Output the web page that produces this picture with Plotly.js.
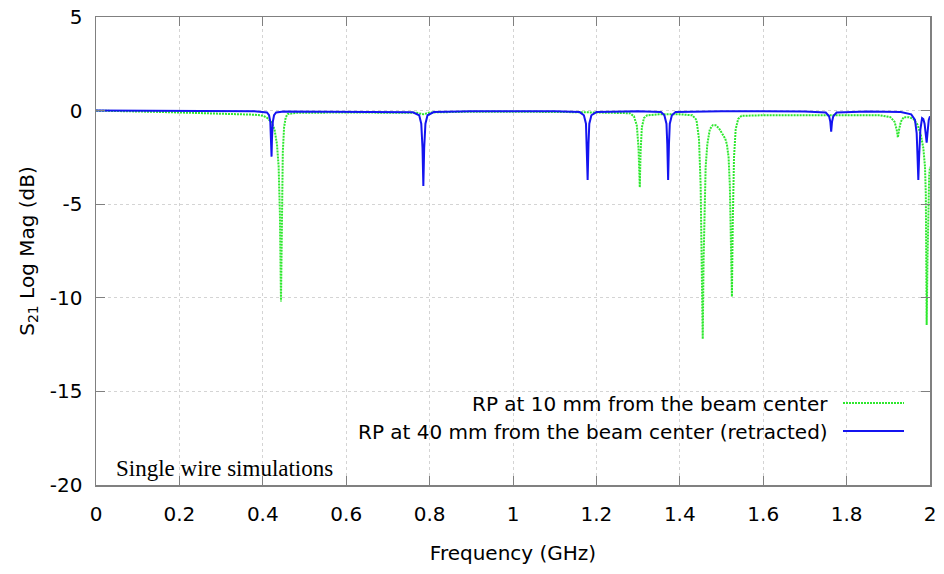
<!DOCTYPE html>
<html>
<head>
<meta charset="utf-8">
<script src="https://cdn.plot.ly/plotly-3.0.1.min.js"></script>
<style>html,body{margin:0;padding:0;background:#fff;}#chart{width:944px;height:574px;}</style>
</head>
<body>
<div id="chart"></div>
<script>
// Frequency (GHz) and S21 (dB)
const freqRP10 = [0, 0.05, 0.1, 0.15, 0.2, 0.25, 0.3, 0.35, 0.38, 0.40, 0.41, 0.42, 0.428, 0.434, 0.438, 0.441, 0.443, 0.4436, 0.4445, 0.446, 0.448, 0.451, 0.455, 0.46, 0.48,
  0.6, 0.7, 0.77, 0.785, 0.80, 0.9, 1.0, 1.1, 1.2, 1.28, 1.29, 1.297, 1.301, 1.304, 1.306, 1.309, 1.314, 1.322, 1.35, 1.40, 1.43,
  1.44, 1.446, 1.450, 1.453, 1.455, 1.457, 1.459, 1.462, 1.466, 1.472, 1.479, 1.486, 1.494, 1.500, 1.504, 1.506, 1.509, 1.513, 1.517, 1.520, 1.523, 1.525, 1.527, 1.530, 1.534, 1.540, 1.548,
  1.6, 1.7, 1.8, 1.86, 1.88, 1.905, 1.915, 1.920, 1.923, 1.926, 1.930, 1.937, 1.95, 1.96, 1.97, 1.978, 1.984, 1.988, 1.990, 1.991, 1.992, 1.994, 1.996, 1.998, 2.0];
const dbRP10 = [0, -0.01, -0.04, -0.07, -0.1, -0.13, -0.16, -0.2, -0.22, -0.27, -0.38, -0.6, -1.0, -1.8, -3.0, -5.5, -9.0, -10.2, -8.5, -5.0, -2.2, -0.9, -0.35, -0.18, -0.12,
  -0.1, -0.1, -0.12, -0.2, -0.1, -0.06, -0.05, -0.07, -0.1, -0.14, -0.3, -0.8, -2.0, -4.1, -2.2, -0.9, -0.4, -0.25, -0.2, -0.2, -0.25,
  -0.5, -1.5, -4.0, -9.0, -12.2, -8.0, -5.0, -3.0, -1.8, -1.0, -0.78, -0.78, -0.95, -1.2, -1.3, -1.45, -1.5, -1.8, -2.5, -4.0, -7.5, -9.94, -6.0, -2.5, -1.0, -0.45, -0.28,
  -0.25, -0.25, -0.25, -0.22, -0.25, -0.35, -0.6, -1.0, -1.43, -1.0, -0.6, -0.35, -0.35, -0.45, -0.75, -1.3, -2.0, -3.0, -4.5, -8.0, -11.45, -8.0, -5.0, -3.5, -3.0];

const freqRP40 = [0, 0.1, 0.2, 0.3, 0.38, 0.41, 0.415, 0.418, 0.42, 0.421, 0.422, 0.424, 0.427, 0.432, 0.45, 0.6, 0.7, 0.76, 0.775, 0.780, 0.783, 0.785, 0.787, 0.790, 0.795, 0.81,
  0.9, 1.0, 1.1, 1.16, 1.17, 1.175, 1.177, 1.179, 1.181, 1.183, 1.188, 1.2, 1.3, 1.355, 1.363, 1.368, 1.370, 1.372, 1.374, 1.376, 1.381, 1.39,
  1.5, 1.7, 1.75, 1.758, 1.761, 1.763, 1.765, 1.768, 1.776, 1.85, 1.93, 1.955, 1.964, 1.968, 1.970, 1.972, 1.974, 1.977, 1.981, 1.984, 1.987, 1.990, 1.992, 1.994, 1.997, 2.0];
const dbRP40 = [0, 0, -0.01, -0.03, -0.04, -0.1, -0.25, -0.6, -1.5, -2.46, -1.5, -0.6, -0.25, -0.1, -0.05, -0.05, -0.07, -0.09, -0.25, -0.7, -2.0, -4.03, -2.0, -0.7, -0.25, -0.08,
  -0.03, -0.02, -0.03, -0.08, -0.25, -0.7, -1.8, -3.71, -1.8, -0.7, -0.25, -0.08, -0.03, -0.08, -0.25, -0.7, -1.8, -3.71, -1.8, -0.7, -0.25, -0.08,
  -0.03, -0.05, -0.1, -0.3, -0.6, -1.13, -0.6, -0.3, -0.1, -0.05, -0.08, -0.2, -0.5, -1.2, -2.4, -3.71, -2.4, -1.0, -0.4, -0.45, -0.7, -1.2, -1.71, -1.2, -0.5, -0.3];

const xTickVals = [0, 0.2, 0.4, 0.6, 0.8, 1, 1.2, 1.4, 1.6, 1.8, 2];
const xTickText = ["0", "0.2", "0.4", "0.6", "0.8", "1", "1.2", "1.4", "1.6", "1.8", "2"];
const yTickVals = [-20, -15, -10, -5, 0, 5];
const yTickText = ["-20", "-15", "-10", "-5", "0", "5"];

const seriesNames = ["RP at 10 mm from the beam center", "RP at 40 mm from the beam center (retracted)"];
const seriesColors = ["#2ee82e", "#1414f0"];

const FONT = "DejaVu Sans, Verdana, sans-serif";

const traces = [
  {x: freqRP10, y: dbRP10, type: "scatter", mode: "lines", name: seriesNames[0],
   line: {color: seriesColors[0], width: 2, dash: "2px,1px"}},
  {x: freqRP40, y: dbRP40, type: "scatter", mode: "lines", name: seriesNames[1],
   line: {color: seriesColors[1], width: 2}}
];

const axisCommon = {
  showline: true, linecolor: "#808080", linewidth: 1.5, mirror: "ticks",
  ticks: "inside", ticklen: 9, tickcolor: "#808080", tickwidth: 1,
  showgrid: true, gridcolor: "#d4d4d4", griddash: "dot", gridwidth: 1,
  zeroline: false, tickfont: {family: FONT, size: 20, color: "#000"}
};

const layout = {
  width: 944, height: 574,
  margin: {l: 96, r: 14, t: 17, b: 89},
  paper_bgcolor: "#fff", plot_bgcolor: "#fff",
  showlegend: false,
  xaxis: Object.assign({}, axisCommon, {
    range: [0, 2], tickmode: "array", tickvals: xTickVals, ticktext: xTickText,
    ticklabelstandoff: 10,
    title: {text: "Frequency (GHz)", font: {family: FONT, size: 20, color: "#000"}, standoff: 21}
  }),
  yaxis: Object.assign({}, axisCommon, {
    range: [-20, 5], tickmode: "array", tickvals: yTickVals, ticktext: yTickText,
    ticklabelstandoff: 8,
    title: {text: "S<sub>21</sub> Log Mag (dB)", font: {family: FONT, size: 20, color: "#000"}, standoff: 10}
  }),
  annotations: [
    {xref: "paper", yref: "paper", x: (830 - 96) / 834, y: (485 - 404) / 468, xanchor: "right", yanchor: "middle",
     text: seriesNames[0], showarrow: false, font: {family: FONT, size: 20, color: "#000"}},
    {xref: "paper", yref: "paper", x: (830 - 96) / 834, y: (485 - 432) / 468, xanchor: "right", yanchor: "middle",
     text: seriesNames[1], showarrow: false, font: {family: FONT, size: 20, color: "#000"}},
    {xref: "paper", yref: "paper", x: (114 - 96) / 834, y: (485 - 468) / 468, xanchor: "left", yanchor: "middle",
     text: "Single wire simulations", showarrow: false, font: {family: "Liberation Serif, Times New Roman, serif", size: 23, color: "#000"}}
  ],
  shapes: [
    {type: "line", xref: "paper", yref: "paper", x0: (843 - 96) / 834, x1: (904 - 96) / 834, y0: (485 - 403) / 468, y1: (485 - 403) / 468,
     line: {color: seriesColors[0], width: 2, dash: "2px,1px"}},
    {type: "line", xref: "paper", yref: "paper", x0: (843 - 96) / 834, x1: (904 - 96) / 834, y0: (485 - 431) / 468, y1: (485 - 431) / 468,
     line: {color: seriesColors[1], width: 2}}
  ]
};

Plotly.newPlot("chart", traces, layout, {staticPlot: true, displayModeBar: false});
</script>
</body>
</html>
